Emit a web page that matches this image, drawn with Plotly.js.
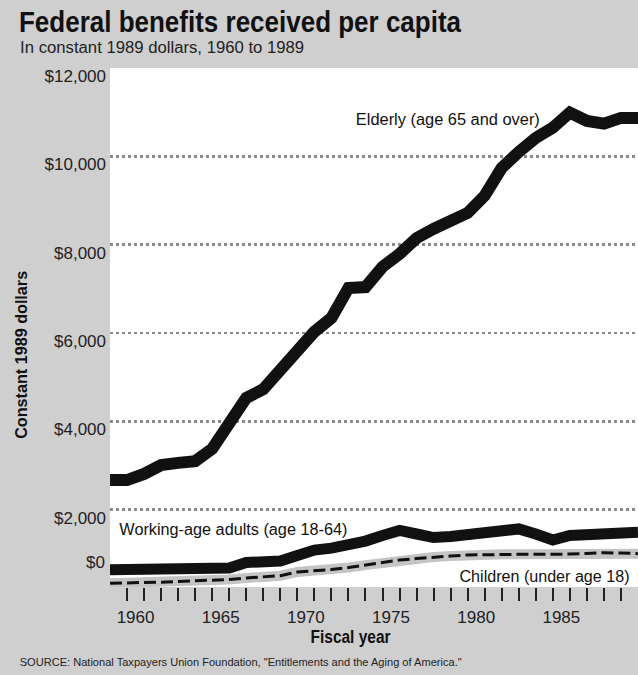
<!DOCTYPE html>
<html>
<head>
<meta charset="utf-8">
<script src="https://cdn.plot.ly/plotly-3.0.1.min.js"></script>
<style>
  html, body { margin: 0; padding: 0; background: #cfcfcf; }
  #chart { width: 638px; height: 675px; }
</style>
</head>
<body>
<div id="chart"></div>
<script>
// ---- Data (constant 1989 dollars) ----
const years = [1959, 1960, 1961, 1962, 1963, 1964, 1965, 1966, 1967, 1968, 1969,
               1970, 1971, 1972, 1973, 1974, 1975, 1976, 1977, 1978, 1979,
               1980, 1981, 1982, 1983, 1984, 1985, 1986, 1987, 1988, 1989, 1990];
const elderly = [2670, 2670, 2810, 3010, 3060, 3100, 3380, 3960, 4530, 4730, 5160,
                 5530, 6030, 6340, 7020, 7040, 7500, 7790, 8150, 8360, 8520,
                 8720, 9110, 9740, 10100, 10420, 10650, 10990, 10800, 10740, 10870, 10870];
const workingAge = [640, 645, 655, 660, 668, 673, 675, 680, 805, 815, 840,
                    965, 1085, 1130, 1180, 1290, 1415, 1530, 1450, 1370, 1395,
                    1425, 1460, 1505, 1565, 1450, 1315, 1415, 1440, 1460, 1485, 1490];
const children = [335, 340, 350, 360, 375, 385, 395, 420, 455, 475, 505,
                  590, 610, 645, 690, 745, 805, 860, 895, 930, 950,
                  975, 985, 990, 990, 990, 990, 995, 1010, 1025, 1020, 1005];
const yearLabels = [1960, 1965, 1970, 1975, 1980, 1985];
const dollarTicks = [2000, 4000, 6000, 8000, 10000, 12000];

const seriesNames = ['Elderly (age 65 and over)', 'Working-age adults (age 18-64)', 'Children (under age 18)'];
const titleText = 'Federal benefits received per capita';
const subtitleText = 'In constant 1989 dollars, 1960 to 1989';
const yTitleText = 'Constant 1989 dollars';
const xTitleText = 'Fiscal year';
const sourceText = 'SOURCE: National Taxpayers Union Foundation, "Entitlements and the Aging of America."';

// ---- Layout helpers ----
const W = 638, H = 675, ML = 110, MR = 0, MT = 68, MB = 88;
const PW = W - ML - MR, PH = H - MT - MB;
const px = x => (x - ML) / PW;            // pixel -> paper x
const py = y => (H - MB - y) / PH;        // pixel -> paper y

const SANS = "'Liberation Sans', Arial, sans-serif";

const traces = [
  { x: years, y: elderly, name: seriesNames[0], type: 'scatter', mode: 'lines',
    line: { color: '#111', width: 12 }, hoverinfo: 'skip' },
  { x: years, y: workingAge, name: seriesNames[1], type: 'scatter', mode: 'lines',
    line: { color: '#111', width: 11 }, hoverinfo: 'skip' },
  { x: years, y: children, name: seriesNames[2] + ' halo', type: 'scatter', mode: 'lines',
    line: { color: '#c4c4c4', width: 10 }, hoverinfo: 'skip' },
  { x: years, y: children, name: seriesNames[2], type: 'scatter', mode: 'lines',
    line: { color: '#111', width: 3, dash: '12px,5px' }, hoverinfo: 'skip' },
  // invisible trace on the label axis so it is drawn
  { x: [years[0]], y: [children[0]], xaxis: 'x2', type: 'scatter', mode: 'markers',
    marker: { opacity: 0 }, hoverinfo: 'skip', showlegend: false }
];

const layout = {
  width: W, height: H,
  margin: { l: ML, r: MR, t: MT, b: MB, pad: 0 },
  paper_bgcolor: '#cfcfcf',
  plot_bgcolor: '#ffffff',
  showlegend: false,
  title: {
    text: titleText,
    xref: 'container', yref: 'container',
    x: 19 / W, xanchor: 'left',
    y: 1 - 22 / H, yanchor: 'middle',
    font: { family: SANS, size: 29, weight: 700, color: '#111' }
  },
  xaxis: {
    range: [years[0], years[years.length - 1]],
    tickmode: 'array',
    tickvals: years.slice(1, -1),
    showticklabels: false,
    ticks: 'outside', ticklen: 13, tickwidth: 2, tickcolor: '#222',
    showgrid: false, zeroline: false, showline: false, fixedrange: true
  },
  xaxis2: {
    overlaying: 'x',
    side: 'bottom',
    range: [years[0], years[years.length - 1]],
    tickmode: 'array',
    tickvals: yearLabels.map(v => v + 0.5),
    ticktext: yearLabels.map(String),
    ticks: '', ticklabelstandoff: 18,
    tickfont: { family: SANS, size: 17, color: '#222' },
    showgrid: false, zeroline: false, showline: false, fixedrange: true
  },
  yaxis: {
    range: [250, 12000],
    tickmode: 'array',
    tickvals: dollarTicks,
    ticktext: dollarTicks.map(v => '$' + v.toLocaleString('en-US')),
    ticks: '', ticklabelshift: 8, ticklabelstandoff: 3,
    tickfont: { family: SANS, size: 17, color: '#222' },
    showgrid: true, gridcolor: '#8a8a8a', gridwidth: 2.5, griddash: 'dot',
    zeroline: false, showline: false, fixedrange: true
  },
  annotations: [
    { text: subtitleText, xref: 'paper', yref: 'paper',
      x: px(20 + 284 / 2), y: py(47), xanchor: 'center', yanchor: 'middle', showarrow: false,
      font: { family: SANS, size: 16, color: '#222' } },
    { text: '$0', xref: 'paper', yref: 'paper', x: px(107), y: py(562),
      xanchor: 'right', yanchor: 'middle', showarrow: false,
      font: { family: SANS, size: 17, color: '#222' } },
    { text: yTitleText, xref: 'paper', yref: 'paper', x: px(22), y: py(355),
      xanchor: 'center', yanchor: 'middle', textangle: -90, showarrow: false,
      font: { family: SANS, size: 16, weight: 700, color: '#111' } },
    { text: xTitleText, xref: 'paper', yref: 'paper', x: px(350), y: py(637),
      xanchor: 'center', yanchor: 'middle', showarrow: false,
      font: { family: SANS, size: 18, weight: 700, color: '#111' } },
    { text: sourceText,
      xref: 'paper', yref: 'paper', x: px(20 + 442 / 2), y: py(662), xanchor: 'center', yanchor: 'middle',
      showarrow: false, font: { family: SANS, size: 10.5, color: '#222' } },
    { text: seriesNames[0], xref: 'paper', yref: 'paper', x: px(540 - 184 / 2), y: py(119),
      xanchor: 'center', yanchor: 'middle', showarrow: false,
      font: { family: SANS, size: 16, color: '#111' } },
    { text: seriesNames[1], xref: 'paper', yref: 'paper', x: px(119 + 228 / 2), y: py(529),
      xanchor: 'center', yanchor: 'middle', showarrow: false,
      font: { family: SANS, size: 16, color: '#111' } },
    { text: seriesNames[2], xref: 'paper', yref: 'paper', x: px(629 - 170 / 2), y: py(576),
      xanchor: 'center', yanchor: 'middle', showarrow: false,
      font: { family: SANS, size: 16, color: '#111' } }
  ]
};

// Condense selected texts to the widths of the condensed newspaper face
const condensed = [
  [titleText, 442], [xTitleText, 80], [yTitleText, 168], [sourceText, 442],
  [subtitleText, 284], [seriesNames[0], 184], [seriesNames[1], 228], [seriesNames[2], 170]
];

Plotly.newPlot('chart', traces, layout, { displayModeBar: false, staticPlot: true }).then(gd => {
  const texts = gd.querySelectorAll('text');
  texts.forEach(t => {
    const match = condensed.find(c => c[0] === t.textContent);
    if (match) {
      t.setAttribute('textLength', match[1]);
      t.setAttribute('lengthAdjust', 'spacingAndGlyphs');
    }
  });
});
</script>
</body>
</html>
